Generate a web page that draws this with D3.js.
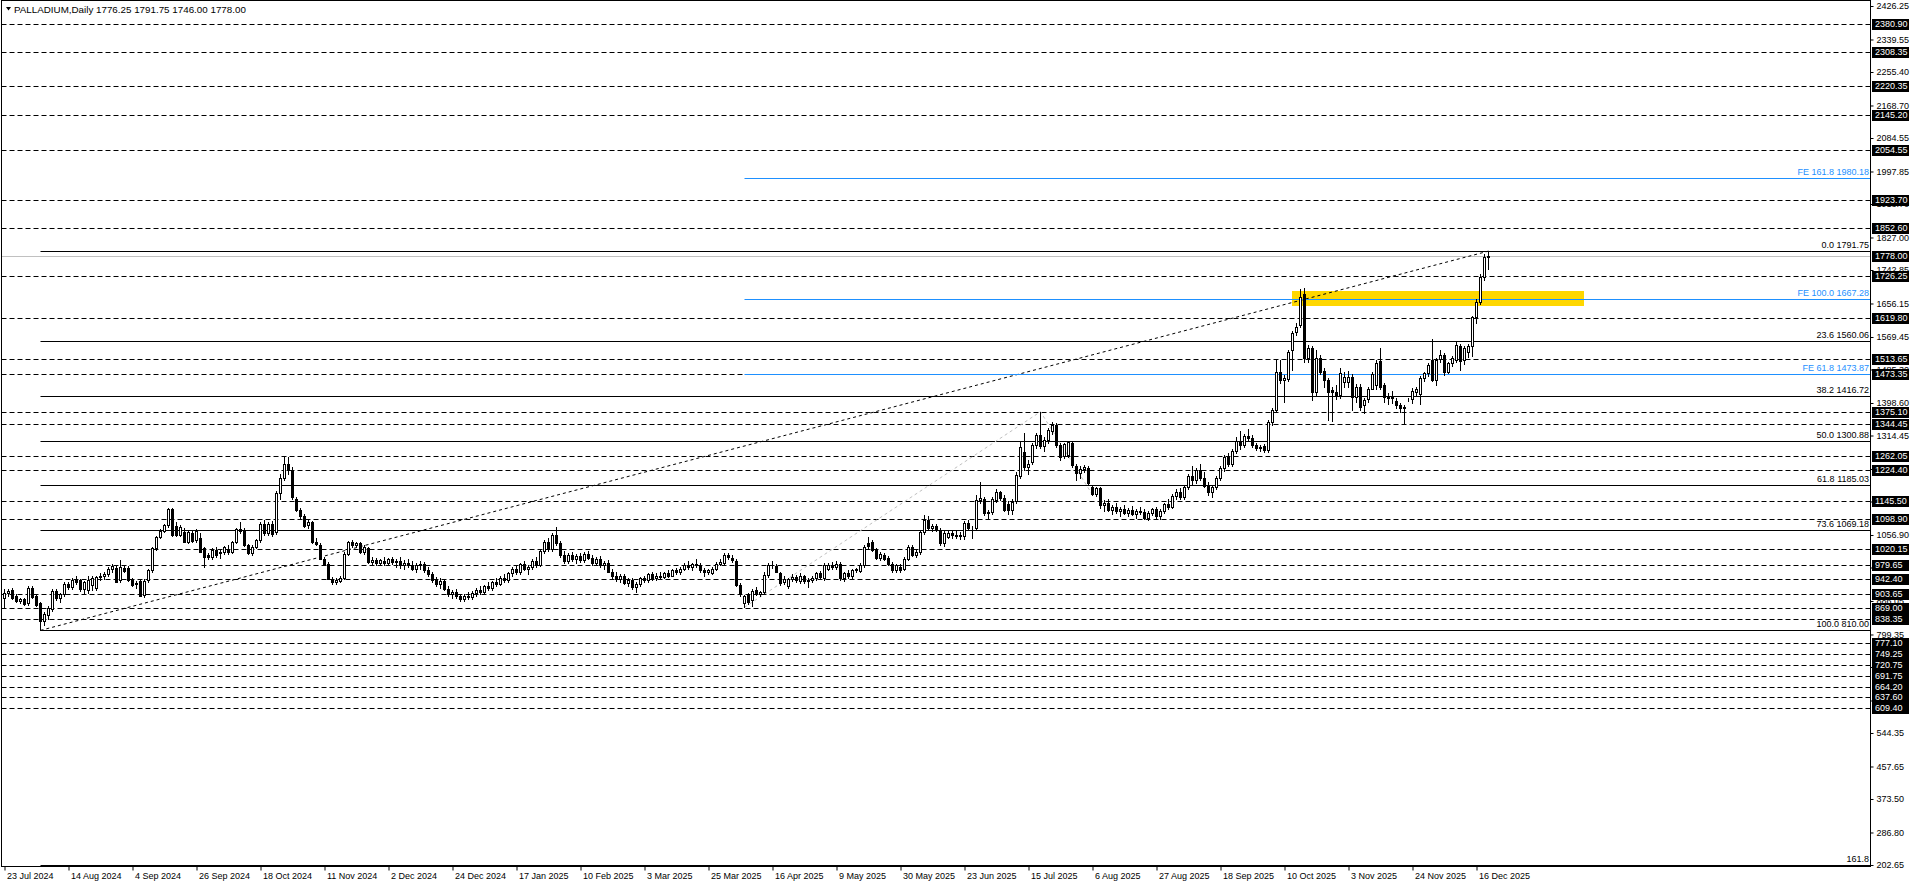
<!DOCTYPE html>
<html><head><meta charset="utf-8">
<script src="https://cdn.jsdelivr.net/npm/d3@7"></script>
<style>
html,body{margin:0;padding:0;background:#fff;overflow:hidden}
svg text{font-family:"Liberation Sans",Arial,sans-serif;font-size:9px}
</style></head><body>
<svg id="chart" width="1916" height="888"></svg>
<script>
// ---------- DATA ----------
const titleText = "PALLADIUM,Daily  1776.25 1791.75 1746.00 1778.00";
const dateLabels = ["23 Jul 2024","14 Aug 2024","4 Sep 2024","26 Sep 2024","18 Oct 2024","11 Nov 2024","2 Dec 2024","24 Dec 2024","17 Jan 2025","10 Feb 2025","3 Mar 2025","25 Mar 2025","16 Apr 2025","9 May 2025","30 May 2025","23 Jun 2025","15 Jul 2025","6 Aug 2025","27 Aug 2025","18 Sep 2025","10 Oct 2025","3 Nov 2025","24 Nov 2025","16 Dec 2025"];
const dateTickBars = [0,16,32,48,64,80,96,112,128,144,160,176,192,208,224,240,256,272,288,304,320,336,352,368];
const priceTicks = [2426.25,2339.55,2255.40,2168.70,2084.55,1997.85,1913.70,1827.00,1742.85,1656.15,1569.45,1485.30,1398.60,1314.45,1227.75,1143.60,1056.90,972.75,886.05,799.35,715.20,628.50,544.35,457.65,373.50,286.80,202.65];
const hLinePrices = [2380.90,2308.35,2220.35,2145.20,2054.55,1923.70,1852.60,1726.25,1619.80,1513.65,1473.35,1375.10,1344.45,1262.05,1224.40,1145.50,1098.90,1020.15,979.65,942.40,903.65,869.00,838.35,777.10,749.25,720.75,691.75,664.20,637.60,609.40];
const currentPrice = 1778.00;
const fibPrices = [1791.75,1560.06,1416.72,1300.88,1185.03,1069.18,810.00,203.26];
const fibLabels = ["0.0 1791.75","23.6 1560.06","38.2 1416.72","50.0 1300.88","61.8 1185.03","73.6 1069.18","100.0 810.00","161.8"];
const fibTrendBars = [9, 371];
const fibTrendPrices = [810.00, 1791.75];
const fePrices = [1473.87,1667.28,1980.18];
const feLabels = ["FE 61.8 1473.87","FE 100.0 1667.28","FE 161.8 1980.18"];
const feTrendBars = [185, 259, 272];
const feTrendPrices = [869.7, 1376, 1161];
const zoneBars = [322, 395];
const zonePrices = [1649.6, 1688.5];

const opens = [894,908,914,898,887,891,880,920,898,880,835,850,866,912,894,903,930,922,940,940,
917,915,928,920,948,950,955,970,972,940,972,972,940,930,938,902,940,966,1022,1052,
1068,1082,1125,1080,1058,1065,1040,1062,1044,1050,1022,1004,1000,1018,1010,1012,1020,1014,1038,1072,
1070,1030,1010,1027,1044,1086,1062,1086,1065,1165,1205,1240,1225,1150,1122,1105,1082,1090,1040,1030,
995,982,944,936,938,946,1008,1038,1030,1035,1012,1022,988,992,985,990,985,994,986,990,
978,985,980,970,978,982,965,955,940,930,938,918,905,910,898,890,900,896,908,915,
910,925,920,935,930,946,940,958,970,960,982,968,975,990,980,1015,1040,1020,1058,1035,
1005,990,1005,995,1002,992,1008,998,985,996,978,985,962,950,942,950,932,940,922,930,
945,940,955,945,952,948,958,952,965,960,970,980,975,982,978,965,960,958,970,983,
984,1005,997,990,927,882,901,888,914,904,910,953,979,976,958,934,926,942,949,938,
950,937,941,945,959,945,970,980,975,983,945,958,950,966,964,979,1037,1038,1020,997,
1005,998,982,966,975,968,996,1027,1006,1012,1065,1096,1075,1080,1070,1035,1053,1062,1058,1054,
1054,1088,1074,1076,1147,1150,1113,1117,1148,1168,1152,1138,1122,1145,1210,1272,1234,1245,1290,1316,
1286,1303,1325,1341,1290,1262,1264,1295,1236,1217,1229,1230,1182,1163,1178,1134,1140,1122,1130,1118,
1125,1115,1122,1112,1120,1116,1102,1114,1124,1106,1120,1136,1130,1158,1168,1155,1180,1210,1198,1225,
1205,1185,1168,1180,1205,1230,1258,1240,1275,1300,1290,1312,1307,1291,1281,1286,1277,1350,1380,1480,
1458,1460,1536,1583,1600,1682,1514,1540,1428,1514,1482,1458,1432,1428,1419,1453,1452,1466,1413,1441,
1393,1410,1436,1445,1508,1445,1414,1411,1404,1393,1388,1408,1410,1428,1422,1462,1475,1510,1458,1512,
1523,1480,1501,1510,1546,1510,1531,1546,1620,1661,1726,1776.25];
const highs = [917,917,920,903,894,895,926,925,902,884,857,872,916,918,906,936,936,945,950,944,
938,952,950,952,958,960,975,982,980,992,980,976,946,938,942,942,968,1026,1055,1072,
1085,1128,1128,1090,1082,1075,1068,1068,1072,1062,1025,1010,1022,1026,1018,1028,1030,1042,1075,1090,
1075,1034,1030,1046,1090,1095,1090,1092,1170,1215,1262,1258,1232,1155,1128,1112,1096,1092,1048,1035,
1000,986,948,945,952,1012,1042,1045,1040,1040,1030,1026,1000,998,995,1000,998,1000,996,1000,
992,996,990,985,990,988,975,962,948,945,942,925,915,918,905,905,910,912,920,925,
928,935,938,945,950,955,962,975,980,985,990,978,995,1000,1020,1045,1050,1062,1078,1042,
1015,1010,1012,1008,1010,1012,1015,1005,1000,1002,990,992,970,960,955,956,945,945,935,948,
952,958,960,958,960,962,965,968,972,975,985,990,985,995,985,972,970,975,988,995,
1010,1010,1004,994,932,902,908,918,922,912,960,985,990,982,962,950,945,955,954,958,
954,946,950,962,964,985,984,986,990,988,962,966,970,972,984,1032,1053,1045,1024,1012,
1010,1002,986,982,982,1000,1032,1032,1018,1070,1109,1105,1085,1085,1074,1066,1068,1070,1066,1064,
1092,1096,1080,1160,1195,1156,1122,1155,1176,1172,1160,1145,1150,1220,1300,1320,1250,1296,1322,1376,
1310,1335,1350,1348,1296,1296,1300,1300,1240,1236,1238,1236,1186,1182,1182,1148,1150,1135,1140,1130,
1135,1128,1132,1125,1130,1124,1118,1128,1130,1125,1140,1150,1162,1175,1178,1185,1215,1235,1230,1240,
1220,1195,1185,1210,1235,1265,1270,1280,1310,1325,1318,1330,1315,1296,1290,1292,1355,1385,1512,1510,
1470,1536,1585,1605,1693,1696,1548,1546,1535,1522,1490,1463,1440,1445,1488,1480,1482,1474,1448,1448,
1412,1440,1480,1510,1540,1450,1425,1430,1412,1398,1394,1412,1438,1440,1468,1480,1502,1564,1515,1535,
1528,1506,1520,1556,1552,1545,1552,1625,1668,1732,1785,1791.75];
const lows = [871,900,892,884,880,875,876,893,872,810,824,840,860,888,884,898,918,916,930,913,
908,908,915,915,940,944,950,962,935,936,960,938,925,920,898,896,936,962,1018,1048,
1064,1078,1055,1055,1055,1038,1035,1038,1040,1012,975,996,994,1000,998,1008,1008,1010,1035,1062,
1028,1008,1005,1022,1040,1058,1056,1055,1060,1150,1198,1215,1150,1118,1102,1078,1075,1035,1030,995,
978,942,930,930,935,942,1004,1025,1025,1010,1008,985,978,980,982,980,978,982,975,972,
970,975,965,960,970,962,950,935,925,920,915,900,895,895,885,886,892,890,900,905,
906,915,915,925,928,935,936,950,955,955,965,955,970,975,976,1010,1015,1015,1030,1000,
985,985,990,985,988,988,995,980,980,975,970,960,945,938,935,930,925,918,910,926,
935,936,940,940,942,945,948,950,955,955,965,970,965,975,960,952,955,955,965,978,
980,995,988,925,900,869.7,878,873,902,898,905,948,972,960,928,930,920,938,936,932,
933,923,936,940,946,940,965,968,970,940,938,945,946,960,960,975,1024,1015,994,992,
992,978,962,960,962,965,992,1002,1000,1008,1060,1070,1068,1066,1030,1028,1048,1050,1048,1046,
1046,1070,1048,1070,1140,1108,1100,1110,1142,1148,1118,1110,1110,1140,1205,1225,1215,1240,1282,1282,
1275,1295,1318,1285,1250,1255,1258,1232,1200,1205,1220,1186,1161,1158,1128,1120,1118,1110,1115,1105,
1110,1105,1108,1100,1110,1098,1095,1108,1100,1098,1115,1125,1126,1150,1150,1150,1175,1190,1192,1200,
1180,1160,1155,1175,1200,1222,1235,1235,1268,1280,1285,1300,1285,1276,1274,1272,1272,1342,1375,1450,
1400,1455,1484,1575,1595,1505,1505,1406,1420,1474,1440,1354,1352,1410,1412,1440,1440,1380,1400,1380,
1372,1400,1436,1436,1436,1400,1395,1398,1385,1376,1344,1405,1398,1420,1395,1455,1468,1455,1445,1505,
1470,1475,1495,1505,1485,1500,1518,1520,1605,1655,1718,1746.00];
const closes = [908,912,894,887,891,878,920,897,876,835,852,868,912,894,903,930,922,940,936,917,
934,940,946,948,950,955,970,976,936,975,964,940,928,932,900,938,966,1022,1052,1068,
1082,1125,1058,1057,1078,1040,1064,1042,1068,1013,1000,1000,1018,1005,1012,1025,1012,1038,1072,1066,
1030,1010,1027,1044,1086,1062,1086,1060,1165,1205,1240,1225,1155,1122,1105,1080,1090,1038,1034,996,
980,944,936,940,946,1008,1038,1030,1035,1012,1025,988,992,985,992,985,994,986,990,978,
985,980,970,978,982,965,955,940,930,938,918,905,910,898,890,900,896,908,915,910,
925,920,935,930,946,940,958,970,960,982,968,975,990,980,1015,1040,1020,1058,1035,1005,
990,1005,995,1002,992,1008,998,985,996,978,985,962,950,942,950,932,940,922,930,945,
940,955,945,952,948,958,952,965,960,970,980,975,982,978,965,960,966,970,983,988,
1005,1001,992,928,905,899,884,912,906,909,953,979,980,962,932,944,942,949,941,952,
937,941,945,958,949,979,980,973,983,945,958,950,966,968,979,1027,1028,1018,997,1008,
996,982,966,978,967,996,1027,1006,1014,1065,1096,1075,1079,1070,1035,1061,1062,1058,1054,1058,
1087,1074,1076,1147,1152,1113,1117,1150,1169,1152,1122,1122,1143,1212,1285,1234,1240,1290,1316,1288,
1303,1329,1341,1290,1260,1292,1297,1238,1217,1229,1232,1191,1164,1178,1134,1140,1122,1130,1118,1125,
1115,1122,1112,1120,1116,1102,1114,1124,1106,1120,1136,1130,1158,1168,1155,1180,1210,1198,1225,1205,
1185,1168,1180,1205,1230,1258,1240,1275,1300,1290,1312,1308,1290,1281,1284,1277,1350,1380,1480,1458,
1463,1531,1579,1596,1674,1514,1540,1428,1514,1480,1458,1428,1428,1420,1475,1466,1466,1413,1441,1389,
1406,1436,1474,1501,1441,1413,1411,1415,1393,1385,1386,1410,1430,1434,1462,1475,1497,1458,1510,1523,
1480,1501,1514,1549,1508,1540,1546,1620,1661,1726,1776,1778.00];

// ---------- SCALES ----------
const W = 1916, H = 888;
const plotL = 1.5, plotR = 1870.5, plotT = 0.5, plotB = 866.5;
const x = d3.scaleLinear().domain([0, 100]).range([4, 404]);
const y = d3.scaleLinear().domain([202.65, 2426.25]).range([865, 6]);
const py = p => Math.round(y(p)) + 0.5;
const svg = d3.select("#chart");

svg.append("rect").attr("width", W).attr("height", H).attr("fill", "#fff");
svg.append("defs").append("clipPath").attr("id", "clip")
  .append("rect").attr("x", 2).attr("y", 1).attr("width", 1868).attr("height", 865);

const g = svg.append("g").attr("clip-path", "url(#clip)");

// yellow zone
g.append("rect")
  .attr("x", Math.round(x(zoneBars[0])))
  .attr("y", Math.round(y(zonePrices[1])))
  .attr("width", Math.round(x(zoneBars[1])) - Math.round(x(zoneBars[0])))
  .attr("height", Math.round(y(zonePrices[0])) - Math.round(y(zonePrices[1])))
  .attr("fill", "#FFD700");

// dashed horizontal levels
g.selectAll("line.hl").data(hLinePrices).join("line")
  .attr("x1", plotL).attr("x2", plotR)
  .attr("y1", d => py(d)).attr("y2", d => py(d))
  .attr("stroke", "#000").attr("stroke-width", 1).attr("stroke-dasharray", "5,3");

// current price line
g.append("line").attr("x1", plotL).attr("x2", plotR)
  .attr("y1", py(currentPrice)).attr("y2", py(currentPrice))
  .attr("stroke", "#C0C0C0").attr("stroke-width", 1);

// fib retracement levels
g.selectAll("line.fib").data(fibPrices).join("line")
  .attr("x1", Math.round(x(fibTrendBars[0])) + 0.5).attr("x2", plotR)
  .attr("y1", d => py(d)).attr("y2", d => py(d))
  .attr("stroke", "#000").attr("stroke-width", 1);
g.append("line")
  .attr("x1", x(fibTrendBars[0]) + 0.5).attr("y1", y(fibTrendPrices[0]))
  .attr("x2", x(fibTrendBars[1]) + 0.5).attr("y2", y(fibTrendPrices[1]))
  .attr("stroke", "#000").attr("stroke-width", 1).attr("stroke-dasharray", "3,3");

// fibo expansion
g.selectAll("line.fe").data(fePrices).join("line")
  .attr("x1", Math.round(x(feTrendBars[0])) + 0.5).attr("x2", plotR)
  .attr("y1", d => py(d)).attr("y2", d => py(d))
  .attr("stroke", "#1E90FF").attr("stroke-width", 1);
g.append("path")
  .attr("d", d3.line()(feTrendBars.map((b, i) => [x(b) + 0.5, y(feTrendPrices[i])])))
  .attr("fill", "none").attr("stroke", "#C0C0C0").attr("stroke-width", 1).attr("stroke-dasharray", "3,3");

// candles
const idx = d3.range(closes.length);
g.selectAll("line.wick").data(idx).join("line")
  .attr("x1", i => Math.round(x(i)) + 0.5).attr("x2", i => Math.round(x(i)) + 0.5)
  .attr("y1", i => Math.round(y(highs[i]))).attr("y2", i => Math.round(y(lows[i])) + 1)
  .attr("stroke", "#000").attr("stroke-width", 1);
g.selectAll("rect.body").data(idx).join("rect")
  .attr("x", i => closes[i] >= opens[i] ? Math.round(x(i)) - 0.5 : Math.round(x(i)) - 1)
  .attr("y", i => closes[i] >= opens[i] ? Math.round(y(closes[i])) + 0.5 : Math.round(y(opens[i])))
  .attr("width", i => closes[i] >= opens[i] ? 2 : 3)
  .attr("height", i => {
    const h = Math.round(y(Math.min(opens[i], closes[i]))) - Math.round(y(Math.max(opens[i], closes[i])));
    return closes[i] >= opens[i] ? Math.max(h, 0) : Math.max(h + 1, 1);
  })
  .attr("fill", i => closes[i] >= opens[i] ? "#fff" : "#000")
  .attr("stroke", i => closes[i] >= opens[i] ? "#000" : "none")
  .attr("stroke-width", 1);

// level labels
g.selectAll("text.fibl").data(fibPrices).join("text")
  .attr("x", 1869).attr("y", d => Math.round(y(d)) - 3)
  .attr("text-anchor", "end").attr("fill", "#000")
  .text((d, i) => fibLabels[i]);
g.selectAll("text.fel").data(fePrices).join("text")
  .attr("x", 1869).attr("y", d => Math.round(y(d)) - 3)
  .attr("text-anchor", "end").attr("fill", "#1E90FF")
  .text((d, i) => feLabels[i]);

// frame
svg.append("rect").attr("x", plotL).attr("y", plotT)
  .attr("width", plotR - plotL).attr("height", plotB - plotT)
  .attr("fill", "none").attr("stroke", "#000").attr("stroke-width", 1);

// right price axis
const yAxis = svg.append("g").attr("transform", `translate(${plotR},0)`)
  .call(d3.axisRight(y).tickValues(priceTicks).tickFormat(d3.format(".2f")).tickSize(3).tickPadding(3));
yAxis.select(".domain").remove();
yAxis.selectAll("text").attr("font-size", null).attr("font-family", null).attr("fill", "#000");
yAxis.selectAll("line").attr("stroke", "#000");

// boxed price labels
const boxes = svg.append("g");
const boxPrices = hLinePrices.concat([currentPrice]);
boxes.selectAll("rect").data(boxPrices).join("rect")
  .attr("x", 1872).attr("y", d => Math.round(y(d)) - 5)
  .attr("width", 37).attr("height", 11).attr("fill", "#000");
boxes.selectAll("text").data(boxPrices).join("text")
  .attr("x", 1875).attr("y", d => y(d)).attr("dy", "0.34em")
  .attr("fill", "#fff").text(d => d3.format(".2f")(d));

// bottom date axis
const xAxis = svg.append("g").attr("transform", `translate(0.5,${plotB})`)
  .call(d3.axisBottom(x).tickValues(dateTickBars).tickFormat((d, i) => dateLabels[i]).tickSize(4));
xAxis.select(".domain").remove();
xAxis.selectAll("line").attr("stroke", "#000");
xAxis.selectAll("text").attr("font-size", null).attr("font-family", null)
  .attr("fill", "#000").attr("text-anchor", "start").attr("x", 2).attr("y", 6).attr("dy", "0.71em");

// title
svg.append("path").attr("d", "M6,7 L11,7 L8.5,10.5 Z").attr("fill", "#000");
svg.append("text").attr("x", 14).attr("y", 12.5).attr("fill", "#000")
  .style("font-size", "9.8px").text(titleText);
</script>
</body></html>
